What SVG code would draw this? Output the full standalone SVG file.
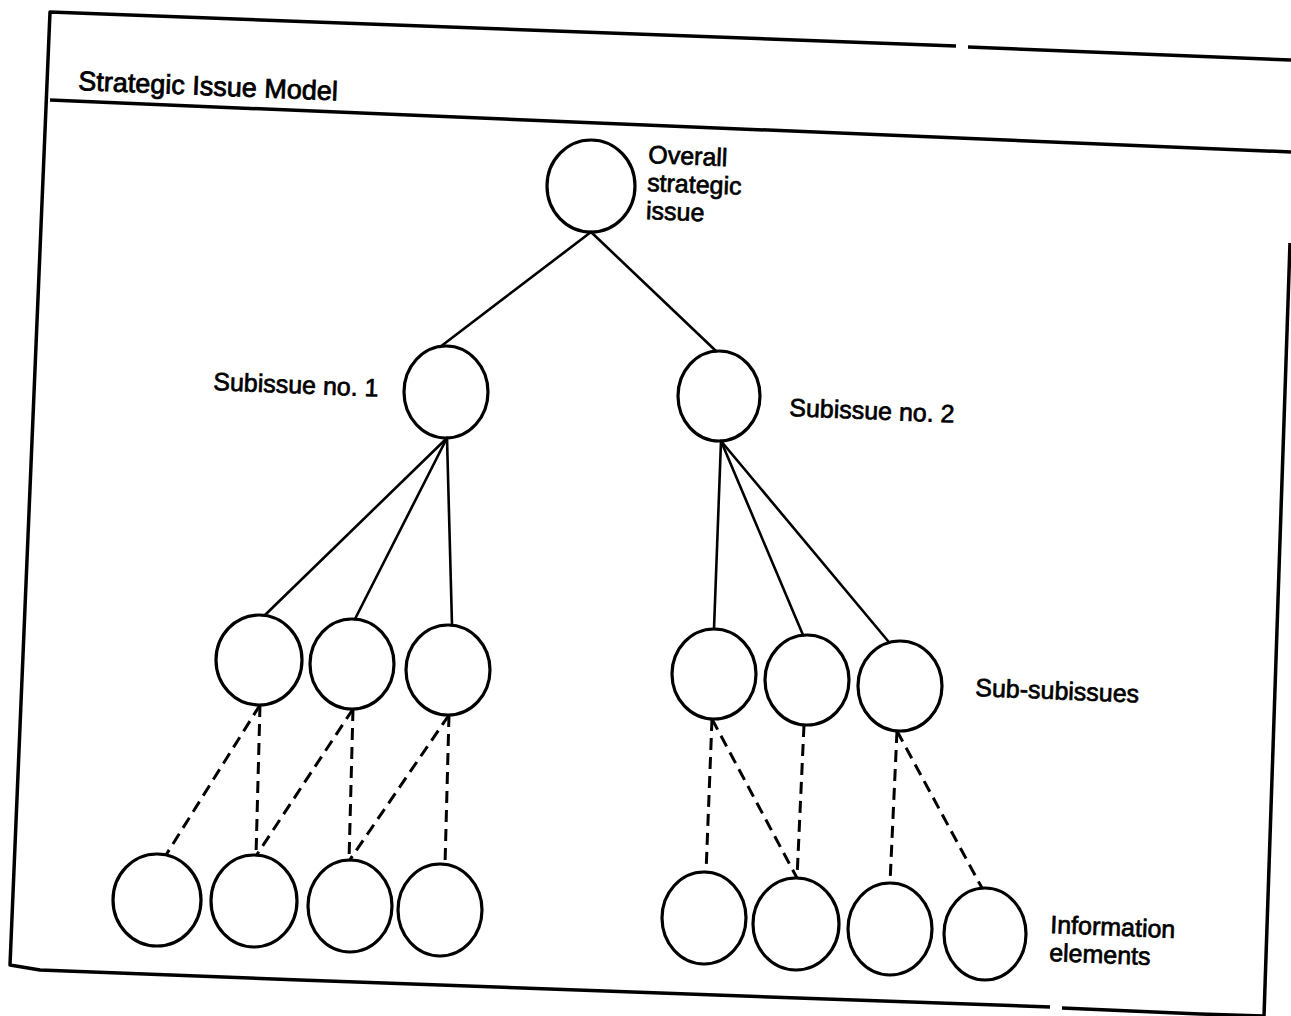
<svg xmlns="http://www.w3.org/2000/svg" width="1291" height="1016" viewBox="0 0 1291 1016">
<style>
.node{fill:none;stroke:#000;stroke-width:3.2}
.solid{fill:none;stroke:#000;stroke-width:2.6;stroke-linecap:round}
.dash{fill:none;stroke:#000;stroke-width:3;stroke-dasharray:12 7}
.frame{fill:none;stroke:#000;stroke-width:3.5;stroke-linejoin:round}
.lbl{font-family:"Liberation Sans",Arial,sans-serif;font-size:25px;fill:#000;stroke:#000;stroke-width:0.7}
.title{font-family:"Liberation Sans",Arial,sans-serif;font-size:27px;fill:#000;stroke:#000;stroke-width:0.8}
</style>
<rect width="1291" height="1016" fill="#fff"/>
<g id="frame">
<polyline class="frame" points="956,46 50,12 10,965 40,970 300,980 1050,1007"/>
<line class="frame" x1="968" y1="47" x2="1291" y2="60"/>
<line class="frame" x1="50" y1="100" x2="1291" y2="152"/>
<polyline class="frame" points="1062,1008 1200,1014 1263,1016"/>
<line class="frame" x1="1290" y1="243" x2="1264" y2="1016"/>
<text class="title" x="78" y="90" transform="rotate(2.3 78 90)">Strategic Issue Model</text>
</g>
<g id="connectors">
<line class="solid" x1="591" y1="232" x2="440" y2="347"/>
<line class="solid" x1="591" y1="232" x2="716" y2="351"/>
<line class="solid" x1="447" y1="438" x2="265" y2="615"/>
<line class="solid" x1="447" y1="438" x2="355" y2="619"/>
<line class="solid" x1="447" y1="438" x2="452" y2="625"/>
<line class="solid" x1="721" y1="441" x2="714" y2="629"/>
<line class="solid" x1="721" y1="441" x2="803" y2="635"/>
<line class="solid" x1="721" y1="441" x2="888" y2="641"/>
<line class="dash" x1="260" y1="705" x2="166" y2="855"/>
<line class="dash" x1="260" y1="705" x2="256" y2="856"/>
<line class="dash" x1="353" y1="709" x2="256" y2="856"/>
<line class="dash" x1="353" y1="709" x2="349" y2="861"/>
<line class="dash" x1="449" y1="715" x2="349" y2="861"/>
<line class="dash" x1="449" y1="715" x2="445" y2="865"/>
<line class="dash" x1="712" y1="719" x2="706" y2="873"/>
<line class="dash" x1="712" y1="719" x2="797" y2="878"/>
<line class="dash" x1="804" y1="725" x2="797" y2="878"/>
<line class="dash" x1="897" y1="731" x2="890" y2="883"/>
<line class="dash" x1="897" y1="731" x2="982" y2="888"/>
</g>
<g id="root">
<ellipse class="node" cx="591" cy="186" rx="44" ry="46"/>
<text class="lbl" transform="rotate(2.3 648 163)"><tspan x="648" y="163">Overall</tspan><tspan x="648" y="191">strategic</tspan><tspan x="648" y="219">issue</tspan></text>
</g>
<g id="subissue1">
<ellipse class="node" cx="446" cy="392" rx="42" ry="46"/>
<text class="lbl" x="213" y="390" transform="rotate(2.3 213 390)">Subissue no. 1</text>
</g>
<g id="subissue2">
<ellipse class="node" cx="719" cy="396" rx="41" ry="45"/>
<text class="lbl" x="789" y="416" transform="rotate(2.3 789 416)">Subissue no. 2</text>
</g>
<g id="subsub-l1"><ellipse class="node" cx="259" cy="660" rx="43" ry="45"/></g>
<g id="subsub-l2"><ellipse class="node" cx="352" cy="664" rx="42" ry="45"/></g>
<g id="subsub-l3"><ellipse class="node" cx="448" cy="670" rx="42" ry="45"/></g>
<g id="subsub-r1"><ellipse class="node" cx="714" cy="674" rx="42" ry="45"/></g>
<g id="subsub-r2"><ellipse class="node" cx="807" cy="680" rx="42" ry="45"/></g>
<g id="subsub-r3">
<ellipse class="node" cx="900" cy="686" rx="42" ry="45"/>
<text class="lbl" x="975" y="696" transform="rotate(2.3 975 696)">Sub-subissues</text>
</g>
<g id="info-l1"><ellipse class="node" cx="157" cy="900" rx="44" ry="46"/></g>
<g id="info-l2"><ellipse class="node" cx="254" cy="901" rx="43" ry="46"/></g>
<g id="info-l3"><ellipse class="node" cx="350" cy="906" rx="42" ry="46"/></g>
<g id="info-l4"><ellipse class="node" cx="440" cy="910" rx="42" ry="46"/></g>
<g id="info-r1"><ellipse class="node" cx="704" cy="918" rx="42" ry="46"/></g>
<g id="info-r2"><ellipse class="node" cx="796" cy="924" rx="43" ry="46"/></g>
<g id="info-r3"><ellipse class="node" cx="890" cy="929" rx="42" ry="46"/></g>
<g id="info-r4">
<ellipse class="node" cx="985" cy="934" rx="41" ry="46"/>
<text class="lbl" transform="rotate(2.3 1050 933)"><tspan x="1050" y="933">Information</tspan><tspan x="1050" y="961">elements</tspan></text>
</g>
</svg>
